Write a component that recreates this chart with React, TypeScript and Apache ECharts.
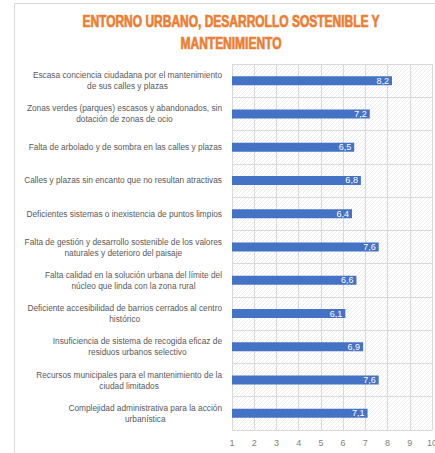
import React, { useEffect, useRef } from "react";
import * as echarts from "echarts";

const titleText = "ENTORNO URBANO, DESARROLLO SOSTENIBLE Y\nMANTENIMIENTO";

const categories: string[] = [
  "Escasa conciencia ciudadana por el mantenimiento\nde sus calles y plazas",
  "Zonas verdes (parques) escasos y abandonados, sin\ndotación de zonas de ocio",
  "Falta de arbolado y de sombra en las calles y plazas",
  "Calles y plazas sin encanto que no resultan atractivas",
  "Deficientes sistemas o inexistencia de puntos limpios",
  "Falta de gestión y desarrollo sostenible de los valores\nnaturales y deterioro del paisaje",
  "Falta calidad en la solución urbana del límite del\nnúcleo que linda con la zona rural",
  "Deficiente accesibilidad de barrios cerrados al centro\nhistórico",
  "Insuficiencia de sistema de recogida eficaz de\nresiduos urbanos selectivo",
  "Recursos municipales para el mantenimiento de la\nciudad limitados",
  "Complejidad administrativa para la acción\nurbanística",
];

const values: number[] = [8.2, 7.2, 6.5, 6.8, 6.4, 7.6, 6.6, 6.1, 6.9, 7.6, 7.1];

const xMin = 1;
const xMax = 10;
const xInterval = 1;

function makePattern(): HTMLCanvasElement {
  const c = document.createElement("canvas");
  c.width = 4;
  c.height = 4;
  const ctx = c.getContext("2d")!;
  ctx.fillStyle = "#ffffff";
  ctx.fillRect(0, 0, 4, 4);
  ctx.fillStyle = "#ededed";
  for (let i = 0; i < 4; i++) {
    ctx.fillRect(i, 3 - i, 1, 1);
  }
  return c;
}

export default function App() {
  const ref = useRef<HTMLDivElement>(null);

  useEffect(() => {
    if (!ref.current) return;
    const chart = echarts.init(ref.current, undefined, { renderer: "svg" });
    const pattern = makePattern();
    chart.setOption({
      animation: false,
      backgroundColor: "#ffffff",
      graphic: [
        {
          type: "rect",
          shape: { x: 14.5, y: 3.5, width: 432, height: 480 },
          style: { fill: "none", stroke: "#d9d9d9", lineWidth: 1 },
          silent: true,
          z: 100,
        },
        {
          type: "text",
          x: 231,
          y: 10,
          scaleX: 0.75,
          style: {
            text: titleText,
            textAlign: "center",
            textVerticalAlign: "top",
            fill: "#ED7D31",
            stroke: "#ED7D31",
            lineWidth: 0.7,
            font: "bold 16px 'Liberation Sans', sans-serif",
            lineHeight: 22,
          },
          silent: true,
        },
      ],
      grid: {
        left: 232,
        right: 15,
        top: 64,
        bottom: 30,
        show: true,
        backgroundColor: { image: pattern, repeat: "repeat" },
        borderWidth: 0,
      },
      xAxis: {
        type: "value",
        min: xMin,
        max: xMax,
        interval: xInterval,
        axisLine: { show: false },
        axisTick: { show: false },
        splitLine: { show: true, lineStyle: { color: "#d9d9d9", width: 1 } },
        axisLabel: {
          color: "#7f7f7f",
          fontSize: 9,
          fontFamily: "'Liberation Sans', sans-serif",
          margin: 8,
        },
      },
      yAxis: {
        type: "category",
        inverse: true,
        data: categories,
        axisLine: { show: false },
        axisTick: { show: false },
        splitLine: { show: true, lineStyle: { color: "#d9d9d9", width: 1 } },
        axisLabel: {
          margin: 10,
          interval: 0,
          align: "right",
          formatter: (v: string) =>
            v
              .split("\n")
              .map((l) => `{c|${l}}`)
              .join("\n"),
          rich: {
            c: {
              align: "center",
              color: "#595959",
              fontSize: 8.3,
              lineHeight: 11,
              fontFamily: "'Liberation Sans', sans-serif",
            },
          },
        },
      },
      series: [
        {
          type: "bar",
          data: values,
          barWidth: 9,
          clip: true,
          itemStyle: { color: "#4472C4" },
          label: {
            show: true,
            position: "insideRight",
            distance: 3,
            color: "#ffffff",
            fontSize: 9,
            fontFamily: "'Liberation Sans', sans-serif",
            formatter: (p: any) => Number(p.value).toFixed(1).replace(".", ","),
          },
        },
      ],
    });
    return () => chart.dispose();
  }, []);

  return (
    <div
      style={{
        position: "absolute",
        left: 0,
        top: 0,
        width: 435,
        height: 453,
        overflow: "hidden",
      }}
    >
      <div ref={ref} style={{ width: 447, height: 460 }} />
    </div>
  );
}
